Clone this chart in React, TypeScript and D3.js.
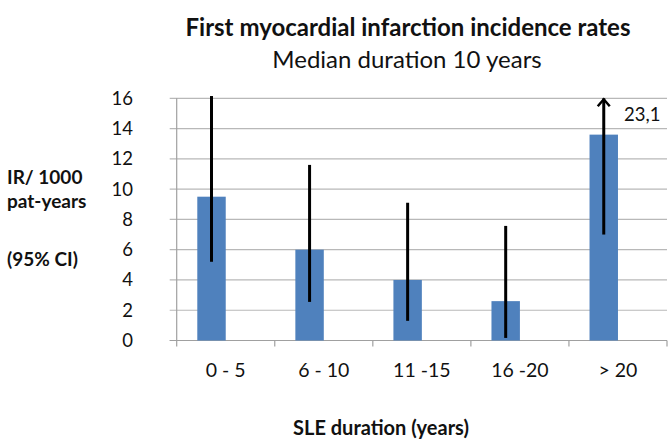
import React from "react";
import * as d3 from "d3";

const categories = ["0 - 5", "6 - 10", "11 -15", "16 -20", "> 20"];
const rates = [9.5, 6.0, 4.0, 2.6, 13.6];
const ciLower = [5.2, 2.55, 1.3, 0.17, 7.0];
const ciUpper = [16.15, 11.6, 9.1, 7.57, 23.1];
const yTicks = [0, 2, 4, 6, 8, 10, 12, 14, 16];

const W = 669;
const H = 440;
const FONT = "Lato, 'Open Sans', sans-serif";

export default function App() {
  const left = 176.7;
  const right = 667;
  const top = 98.3;
  const bottom = 340.5;
  const x = d3.scaleBand<string>().domain(categories).range([left, right]).padding(0);
  const y = d3.scaleLinear().domain([0, 16]).range([bottom, top]);
  const bw = x.bandwidth();
  const barW = bw * 0.29;
  const yMax = y.domain()[1];
  const clipLimit = 20;

  return (
    <svg width={W} height={H} style={{ position: "absolute", left: 0, top: 0, background: "#fff" }}>
      <text x={408} y={36} textAnchor="middle" fontFamily={FONT} fontWeight="bold" fontSize={24} fill="#111">
        First myocardial infarction incidence rates
      </text>
      <text x={407} y={68} textAnchor="middle" fontFamily={FONT} fontSize={24} fill="#111">
        Median duration 10 years
      </text>

      {yTicks.map((t) => (
        <line key={"g" + t} x1={left - 7} x2={right} y1={y(t)} y2={y(t)} stroke="#b8b8b8" strokeWidth={1.2} />
      ))}
      <line x1={left} x2={left} y1={top} y2={bottom} stroke="#a0a0a0" strokeWidth={1.2} />
      {yTicks.map((t) => (
        <text key={"t" + t} x={133} y={y(t) + 6.5} textAnchor="end" fontFamily={FONT} fontSize={18.5} fill="#111">
          {t}
        </text>
      ))}
      <line x1={left - 7} x2={right} y1={bottom} y2={bottom} stroke="#a0a0a0" strokeWidth={1.2} />
      {categories.map((c) => (
        <line key={"xt" + c} x1={x(c)!} x2={x(c)!} y1={bottom} y2={bottom + 6} stroke="#a0a0a0" strokeWidth={1.2} />
      ))}
      <line x1={right} x2={right} y1={bottom} y2={bottom + 6} stroke="#a0a0a0" strokeWidth={1.2} />

      {categories.map((c, i) => {
        const cx = x(c)! + bw / 2;
        return (
          <rect key={"b" + c} x={cx - barW} y={y(rates[i])} width={barW} height={bottom - y(rates[i])} fill="#4f81bd" />
        );
      })}

      {categories.map((c, i) => {
        const cx = x(c)! + bw / 2 - barW / 2;
        const over = ciUpper[i] > clipLimit;
        const yTop = over ? y(yMax) : y(ciUpper[i]);
        return (
          <g key={"e" + c}>
            <line x1={cx} x2={cx} y1={y(ciLower[i])} y2={yTop} stroke="#000" strokeWidth={3} />
            {over && (
              <>
                <polyline
                  points={`${cx - 6},${yTop + 8} ${cx},${yTop + 1} ${cx + 6},${yTop + 8}`}
                  fill="none"
                  stroke="#000"
                  strokeWidth={2.5}
                />
                <text x={624} y={121} fontFamily={FONT} fontSize={18.5} fill="#111">
                  {String(ciUpper[i]).replace(".", ",")}
                </text>
              </>
            )}
          </g>
        );
      })}

      {categories.map((c) => (
        <text key={"xl" + c} x={x(c)! + bw / 2} y={377} textAnchor="middle" fontFamily={FONT} fontSize={19.5} fill="#111">
          {c}
        </text>
      ))}

      <text x={381} y={435} textAnchor="middle" fontFamily={FONT} fontWeight="bold" fontSize={20} fill="#111">
        SLE duration (years)
      </text>

      <g fontFamily={FONT} fontWeight="bold" fontSize={19} fill="#111">
        <text x={7} y={184}>IR/ 1000</text>
        <text x={7} y={208}>pat-years</text>
        <text x={7} y={266}>(95% CI)</text>
      </g>
    </svg>
  );
}
